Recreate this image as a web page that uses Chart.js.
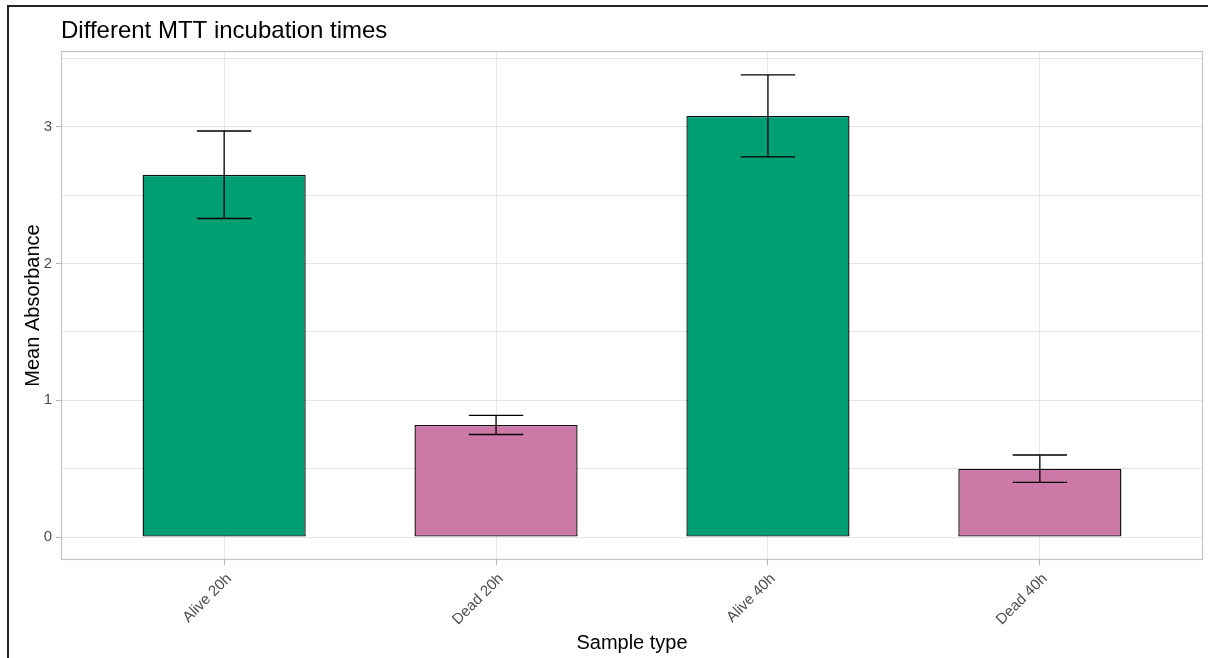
<!DOCTYPE html>
<html>
<head>
<meta charset="utf-8">
<script src="https://cdn.jsdelivr.net/npm/chart.js@4.4.1/dist/chart.umd.min.js"></script>
<style>
  html, body { margin: 0; padding: 0; background: #fff; }
  #wrap { width: 1208px; height: 658px; position: relative; }
</style>
</head>
<body>
<div id="wrap"><canvas id="c" width="1208" height="658"></canvas></div>
<script>
// Sample groups and their mean absorbance with spread (± error)
const categories = ['Alive 20h', 'Dead 20h', 'Alive 40h', 'Dead 40h'];
const meanAbsorbance = [2.65, 0.82, 3.08, 0.50];
const errorAmount = [0.32, 0.07, 0.30, 0.10];
const barColors = ['#009E73', '#CC79A7', '#009E73', '#CC79A7'];
const yTickValues = [0, 0.5, 1, 1.5, 2, 2.5, 3, 3.5];

const titleText = 'Different MTT incubation times';
const xTitle = 'Sample type';
const yTitle = 'Mean Absorbance';

const FONT = '"Liberation Sans", Arial, sans-serif';

// Error bars: vertical stem plus caps, positioned through the chart scales
const errorBarPlugin = {
  id: 'errorBars',
  afterDatasetsDraw(chart) {
    const { ctx, scales: { x, y } } = chart;
    const capHalf = (x.getPixelForValue(1.1) - x.getPixelForValue(1));
    ctx.save();
    ctx.strokeStyle = '#000';
    ctx.lineWidth = 1.3;
    meanAbsorbance.forEach((m, i) => {
      const px = x.getPixelForValue(i + 1);
      const top = y.getPixelForValue(m + errorAmount[i]);
      const bot = y.getPixelForValue(m - errorAmount[i]);
      ctx.beginPath();
      ctx.moveTo(px, top); ctx.lineTo(px, bot);
      ctx.moveTo(px - capHalf, top); ctx.lineTo(px + capHalf, top);
      ctx.moveTo(px - capHalf, bot); ctx.lineTo(px + capHalf, bot);
      ctx.stroke();
    });
    ctx.restore();
  }
};

// Frame, panel border, title and axis titles
const decorPlugin = {
  id: 'decor',
  beforeDraw(chart) {
    const { ctx } = chart;
    ctx.save();
    ctx.fillStyle = '#fff';
    ctx.fillRect(0, 0, chart.width, chart.height);
    ctx.restore();
  },
  afterDraw(chart) {
    const { ctx, chartArea: a } = chart;
    ctx.save();
    // outer frame lines
    ctx.strokeStyle = '#222';
    ctx.lineWidth = 2;
    ctx.beginPath();
    ctx.moveTo(8, chart.height); ctx.lineTo(8, 6); ctx.lineTo(chart.width, 6);
    ctx.stroke();
    // panel border
    ctx.strokeStyle = '#c4c4c4';
    ctx.lineWidth = 1.2;
    ctx.strokeRect(a.left + 0.5, a.top + 0.5, a.right - a.left - 1, a.bottom - a.top - 1);
    // title
    ctx.fillStyle = '#000';
    ctx.font = '24px ' + FONT;
    ctx.textAlign = 'left';
    ctx.textBaseline = 'alphabetic';
    ctx.fillText(titleText, a.left, 38);
    // x axis title
    ctx.font = '20px ' + FONT;
    ctx.textAlign = 'center';
    ctx.fillText(xTitle, (a.left + a.right) / 2, 649);
    // y axis title
    ctx.translate(39, (a.top + a.bottom) / 2);
    ctx.rotate(-Math.PI / 2);
    ctx.fillText(yTitle, 0, 0);
    ctx.restore();
  }
};

new Chart(document.getElementById('c'), {
  type: 'bar',
  data: {
    datasets: [{
      data: meanAbsorbance.map((v, i) => ({ x: i + 1, y: v })),
      backgroundColor: barColors,
      borderColor: '#111',
      borderWidth: 1.4,
      borderSkipped: false,
      barPercentage: 0.6,
      categoryPercentage: 1.0
    }]
  },
  options: {
    responsive: false,
    animation: false,
    devicePixelRatio: 1,
    layout: { padding: { left: 8, top: 51, right: 5, bottom: 0 } },
    plugins: { legend: { display: false }, tooltip: { enabled: false }, title: { display: false } },
    scales: {
      x: {
        type: 'linear',
        min: 0.4,
        max: 4.6,
        offset: false,
        afterBuildTicks: s => { s.ticks = categories.map((_, i) => ({ value: i + 1 })); },
        afterFit: s => { s.height = 98; },
        border: { display: false },
        grid: { offset: false, color: '#e6e6e6', lineWidth: 1, tickLength: 5, tickColor: '#b5b5b5' },
        ticks: {
          autoSkip: false,
          minRotation: 45,
          maxRotation: 45,
          padding: 5,
          labelOffset: 5,
          color: '#4d4d4d',
          font: { family: FONT, size: 15 },
          callback: v => categories[v - 1] || ''
        }
      },
      y: {
        type: 'linear',
        min: -0.168,
        max: 3.555,
        afterBuildTicks: s => { s.ticks = yTickValues.map(v => ({ value: v })); },
        afterFit: s => { s.width = 53; },
        border: { display: false },
        grid: {
          color: '#e6e6e6',
          lineWidth: 1,
          tickLength: 5,
          tickColor: c => (c.tick && Number.isInteger(c.tick.value)) ? '#b5b5b5' : 'rgba(0,0,0,0)'
        },
        ticks: {
          padding: 4,
          color: '#4d4d4d',
          font: { family: FONT, size: 15 },
          callback: v => Number.isInteger(v) ? String(v) : ''
        }
      }
    }
  },
  plugins: [errorBarPlugin, decorPlugin]
});
</script>
</body>
</html>
